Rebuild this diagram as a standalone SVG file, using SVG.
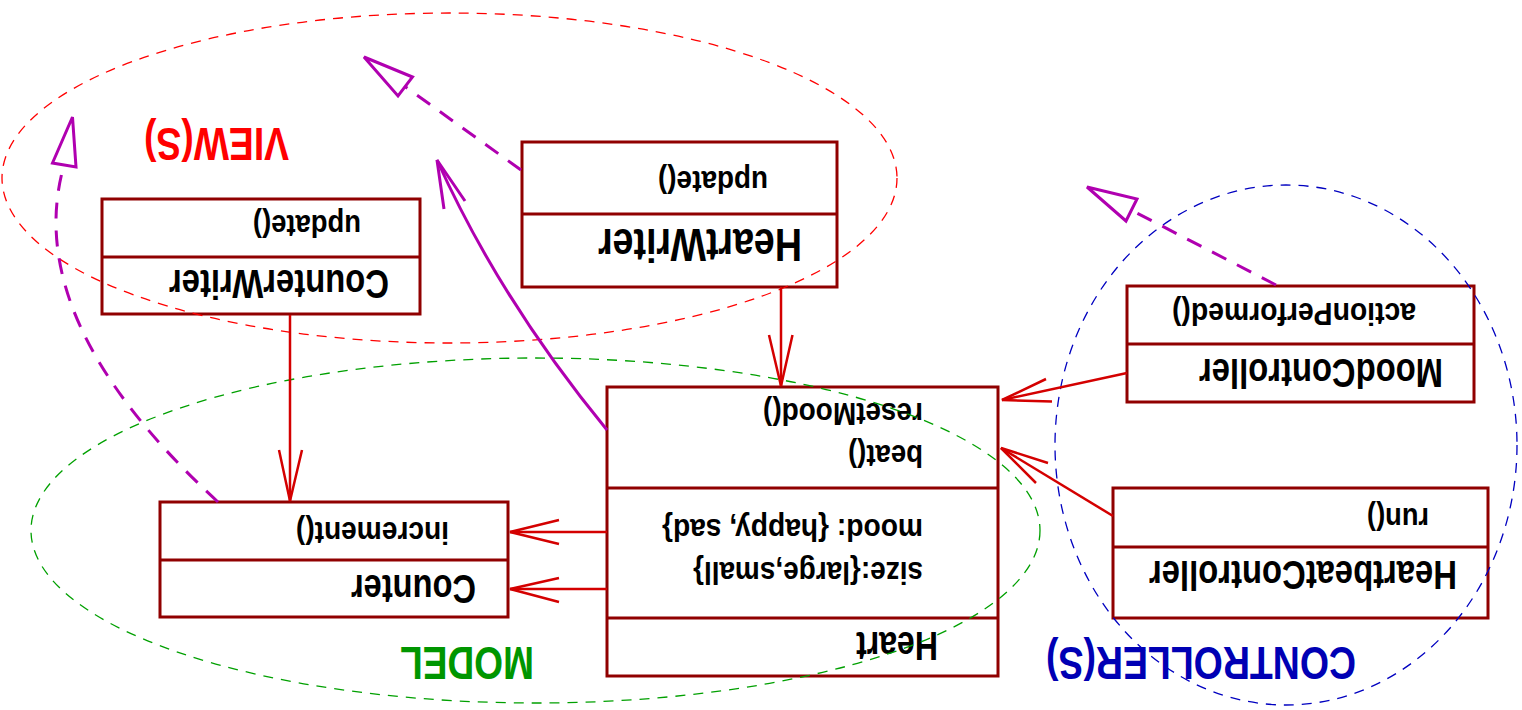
<svg xmlns="http://www.w3.org/2000/svg" width="1522" height="710" viewBox="0 0 1522 710">
  <style>
    .box { fill: #ffffff; stroke: #900000; stroke-width: 3; }
    .div { stroke: #900000; stroke-width: 3; }
    .txt { font-family: "Liberation Sans", Arial, sans-serif; font-weight: bold; fill: #000000; }
    .cls { font-size: 41px; }
    .op { font-size: 31px; }
    .lbl { font-family: "Liberation Sans", Arial, sans-serif; font-weight: bold; font-size: 46px; }
    .assoc { fill: none; stroke: #d40000; stroke-width: 2.5; }
    .real { fill: none; stroke: #b000b0; stroke-width: 3; stroke-dasharray: 16 12; }
    .tri { fill: #ffffff; stroke: #b000b0; stroke-width: 3; stroke-linejoin: miter; }
    .dep { fill: none; stroke: #b000b0; stroke-width: 3; }
    .zone { fill: none; stroke-width: 1.3; stroke-dasharray: 10 8; }
  </style>

  <!-- the whole drawing is laid out upside down: every label is turned 180 degrees about its anchor -->

  <g id="heart">
    <rect class="box" x="607" y="387" width="391" height="289"/>
    <line class="div" x1="607" y1="488" x2="998" y2="488"/>
    <line class="div" x1="607" y1="618" x2="998" y2="618"/>
    <text class="txt cls" x="938" y="632" transform="rotate(180 938 632)" textLength="82" lengthAdjust="spacingAndGlyphs">Heart</text>
    <text class="txt op" x="923" y="519" transform="rotate(180 923 519)" textLength="261" lengthAdjust="spacingAndGlyphs">mood: {happy, sad}</text>
    <text class="txt op" x="923" y="562" transform="rotate(180 923 562)" textLength="230" lengthAdjust="spacingAndGlyphs">size:{large,small}</text>
    <text class="txt op" x="923" y="403" transform="rotate(180 923 403)" textLength="160" lengthAdjust="spacingAndGlyphs">resetMood()</text>
    <text class="txt op" x="923" y="445" transform="rotate(180 923 445)" textLength="75" lengthAdjust="spacingAndGlyphs">beat()</text>
  </g>

  <g id="counter">
    <rect class="box" x="160" y="502" width="348" height="115"/>
    <line class="div" x1="160" y1="560" x2="508" y2="560"/>
    <text class="txt cls" x="476" y="575" transform="rotate(180 476 575)" textLength="125" lengthAdjust="spacingAndGlyphs">Counter</text>
    <text class="txt op" x="449" y="522" transform="rotate(180 449 522)" textLength="153" lengthAdjust="spacingAndGlyphs">increment()</text>
  </g>

  <g id="counterWriter">
    <rect class="box" x="102" y="199" width="318" height="115"/>
    <line class="div" x1="102" y1="257" x2="420" y2="257"/>
    <text class="txt cls" x="389" y="270" transform="rotate(180 389 270)" textLength="220" lengthAdjust="spacingAndGlyphs">CounterWriter</text>
    <text class="txt op" x="361" y="215" transform="rotate(180 361 215)" textLength="108" lengthAdjust="spacingAndGlyphs">update()</text>
  </g>

  <g id="heartWriter">
    <rect class="box" x="522" y="142" width="315" height="145"/>
    <line class="div" x1="522" y1="214" x2="837" y2="214"/>
    <text class="txt" font-size="46" x="802" y="229" transform="rotate(180 802 229)" textLength="204" lengthAdjust="spacingAndGlyphs">HeartWriter</text>
    <text class="txt op" x="768" y="171" transform="rotate(180 768 171)" textLength="110" lengthAdjust="spacingAndGlyphs">update()</text>
  </g>

  <g id="moodController">
    <rect class="box" x="1127" y="286" width="347" height="116"/>
    <line class="div" x1="1127" y1="344" x2="1474" y2="344"/>
    <text class="txt cls" x="1443" y="359" transform="rotate(180 1443 359)" textLength="244" lengthAdjust="spacingAndGlyphs">MoodController</text>
    <text class="txt op" x="1416" y="303" transform="rotate(180 1416 303)" textLength="244" lengthAdjust="spacingAndGlyphs">actionPerformed()</text>
  </g>

  <g id="heartbeatController">
    <rect class="box" x="1113" y="488" width="375" height="130"/>
    <line class="div" x1="1113" y1="547" x2="1488" y2="547"/>
    <text class="txt cls" x="1457" y="561" transform="rotate(180 1457 561)" textLength="308" lengthAdjust="spacingAndGlyphs">HeartbeatController</text>
    <text class="txt op" x="1429" y="508" transform="rotate(180 1429 508)" textLength="62" lengthAdjust="spacingAndGlyphs">run()</text>
  </g>

  <!-- group labels -->
  <g id="labels">
    <text class="lbl" fill="#ff0000" x="289" y="128" transform="rotate(180 289 128)" textLength="145" lengthAdjust="spacingAndGlyphs">VIEW(S)</text>
    <text class="lbl" fill="#009600" x="534" y="647" transform="rotate(180 534 647)" textLength="134" lengthAdjust="spacingAndGlyphs">MODEL</text>
    <text class="lbl" fill="#0000b4" x="1356" y="647" transform="rotate(180 1356 647)" textLength="310" lengthAdjust="spacingAndGlyphs">CONTROLLER(S)</text>
  </g>

  <!-- dashed outlines of the three groups -->
  <g id="zones">
    <ellipse class="zone" stroke="#ff0000" cx="449.5" cy="178" rx="447.5" ry="165"/>
    <ellipse class="zone" stroke="#00a000" cx="535.5" cy="530.5" rx="504.5" ry="172.5"/>
    <ellipse class="zone" stroke="#0000c0" cx="1286" cy="445" rx="231" ry="260"/>
  </g>

  <g id="connectors">
    <!-- navigable associations with open arrowheads -->
    <line class="assoc" x1="781" y1="287" x2="781" y2="386"/>
    <polyline class="assoc" points="769,335 781,386 792.5,335"/>

    <line class="assoc" x1="290" y1="315" x2="290" y2="501"/>
    <polyline class="assoc" points="279,450 290,501 302,450"/>

    <line class="assoc" x1="607" y1="532" x2="510" y2="532"/>
    <polyline class="assoc" points="559,520 510,532 559,544"/>
    <line class="assoc" x1="607" y1="589" x2="510" y2="589"/>
    <polyline class="assoc" points="559,578 510,589 559,602"/>

    <line class="assoc" x1="1127" y1="373" x2="1002" y2="400"/>
    <polyline class="assoc" points="1046,379 1002,400 1052,401.5"/>

    <line class="assoc" x1="1113" y1="516" x2="1001" y2="448"/>
    <polyline class="assoc" points="1048,463 1001,448 1036,483"/>

    <!-- dependency from Heart up into the views -->
    <path class="dep" d="M607,430 Q500,300 437,160"/>
    <polyline class="dep" points="444,209 437,160 465,201"/>

    <!-- realizations with hollow triangles -->
    <path class="real" d="M218,502 Q20,320 64,165"/>
    <polygon class="tri" points="72.5,117 52.5,163 76,167"/>

    <line class="real" x1="521" y1="170" x2="405" y2="86.5"/>
    <polygon class="tri" points="364,57 412.5,77 398,96"/>

    <line class="real" x1="1276" y1="285" x2="1131" y2="210"/>
    <polygon class="tri" points="1087,187 1137,199 1126,221"/>
  </g>
</svg>
